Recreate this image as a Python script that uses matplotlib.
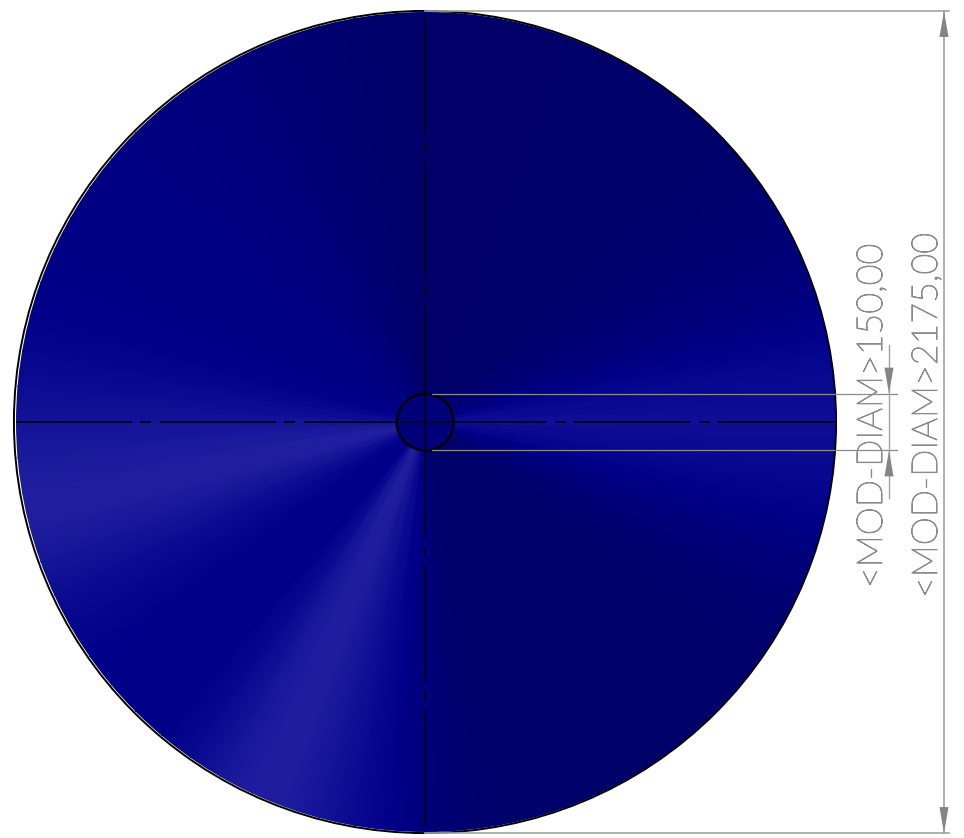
import numpy as np
import matplotlib
matplotlib.use("Agg")
import matplotlib.pyplot as plt
import matplotlib.patheffects as pe
from matplotlib.colors import LinearSegmentedColormap
from matplotlib.patches import Circle, Polygon

# ---- data ----
outer_diameter = 2175.0
hole_diameter = 150.0
label_outer = "<MOD-DIAM>2175,00"
label_hole = "<MOD-DIAM>150,00"
# field level every 5 degrees, counter-clockwise from east
field_angles = list(range(0, 365, 5))
field_levels = [
    .68, .62, .50, .34, .24, .18, .13, .09, .06, .04, .03, .02,   # 0-55
    .02, .01, .01, .00, .00, .00, .01, .03, .06, .10, .14, .18,   # 60-115
    .22, .25, .28, .30, .32, .33, .34, .35, .38, .42, .52, .65,   # 120-175
    .78, .90, 1.0, .97, .82, .66, .52, .42, .38, .38, .40, .58,   # 180-235
    .82, .98, .95, .78, .60, .40, .22, .10, .05, .03, .02, .01,   # 240-295
    .01, .01, .01, .02, .03, .05, .08, .15, .25, .36, .50, .62,   # 300-355
    .68]                                                          # 360

W, H = 964, 838
S = 0.378          # px per mm
CX, CY = 425.0, 422.0


def X(px):
    return (px - CX) / S


def Y(py):
    return (CY - py) / S


plt.rcParams['lines.scale_dashes'] = False
fig = plt.figure(figsize=(W / 100, H / 100), dpi=100)
ax = fig.add_axes([0, 0, 1, 1])
ax.set_xlim(X(0), X(W))
ax.set_ylim(Y(H), Y(0))
ax.axis('off')

cmap = LinearSegmentedColormap.from_list(
    'field', [(0, '#000068'), (0.4, '#00008a'), (1, '#1f1f9f')])

# angular field
R = outer_diameter / 2
th = np.radians(field_angles)
rr = np.array([1.0, R * 1.02])
T, RR = np.meshgrid(th, rr)
vals = np.tile(np.array(field_levels), (2, 1))
mesh = ax.pcolormesh(RR * np.cos(T), RR * np.sin(T), vals, shading='gouraud',
                     cmap=cmap, vmin=0, vmax=1, zorder=1)
clip = Circle((0.7 / S, 0), R - 1.2 / S, transform=ax.transData)
mesh.set_clip_path(clip)

# hole
ax.add_patch(Circle((0, 0), hole_diameter / 2, fc='#000078', ec='black', lw=1.7, zorder=3))
# outer outline
ax.add_patch(Circle((0, 0), R, fc='none', ec='black', lw=1.4, zorder=4))

# centre lines
dash = (0, (116 * .72, 9 * .72, 11 * .72, 8 * .72))
start = 5 / S
for dx, dy, st in [(1, 0, start), (-1, 0, start), (0, 1, 0), (0, -1, 0)]:
    ax.plot([dx * st, dx * R], [dy * st, dy * R], color='#030320', lw=1.35,
            linestyle=dash, zorder=3.5, solid_capstyle='butt', dash_capstyle='butt')
ax.plot([X(423), X(427)], [0, 0], color='#030320', lw=1.35, zorder=3.5)

# dimensions
grey = '#a3a3a3'
dark = '#8a8a8a'
ytop, ybot = R, -R
ax.plot([0, X(949)], [ytop, ytop], color=grey, lw=1.2, zorder=5)
ax.plot([0, X(949)], [ybot, ybot], color=grey, lw=1.2, zorder=5)
ax.plot([X(944), X(944)], [ytop, ybot], color=grey, lw=1.2, zorder=5)
yh = hole_diameter / 2
ax.plot([X(432), X(897)], [yh, yh], color=dark, lw=0.9, zorder=5)
ax.plot([X(432), X(897)], [-yh, -yh], color=dark, lw=0.9, zorder=5)
ax.plot([X(889), X(889)], [Y(345), Y(498)], color=grey, lw=1.0, zorder=5)


def arrow(xp, tip_y, direction):
    """direction: +1 arrow body extends upward on screen from the tip."""
    base = tip_y + direction * 26 / S
    ax.add_patch(Polygon([(X(xp), tip_y), (X(xp - 4.5), base), (X(xp + 4.5), base)],
                         closed=True, fc='#858585', ec='none', zorder=6))


arrow(944, ytop, -1)
arrow(944, ybot, 1)
arrow(889, yh, 1)
arrow(889, -yh, -1)

txt = dict(rotation=90, rotation_mode='anchor', ha='left', va='baseline',
           color='#8a8a8a', family='Lato', weight='light', fontsize=25.8, zorder=7,
           path_effects=[pe.withStroke(linewidth=0.7, foreground='#8a8a8a')])
ax.text(X(882), Y(588), label_hole, **txt)
ax.text(X(937), Y(598), label_outer, **txt)

fig.savefig('out.png', dpi=100)
